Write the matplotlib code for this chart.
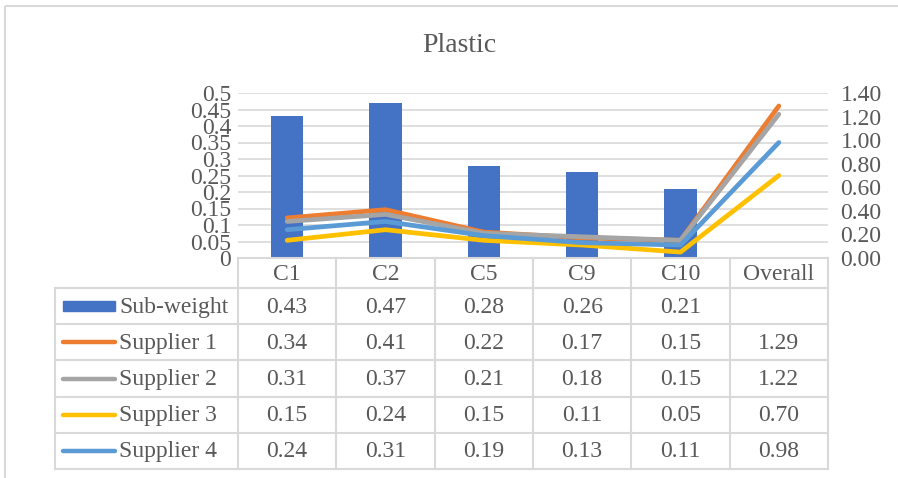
import matplotlib.pyplot as plt
import numpy as np
from matplotlib.patches import Rectangle
from matplotlib.lines import Line2D

plt.rcParams['font.family'] = ['Liberation Serif', 'DejaVu Serif']

categories = ['C1', 'C2', 'C5', 'C9', 'C10', 'Overall']
sub_weight = [0.43, 0.47, 0.28, 0.26, 0.21, None]
supplier_1 = [0.34, 0.41, 0.22, 0.17, 0.15, 1.29]
supplier_2 = [0.31, 0.37, 0.21, 0.18, 0.15, 1.22]
supplier_3 = [0.15, 0.24, 0.15, 0.11, 0.05, 0.70]
supplier_4 = [0.24, 0.31, 0.19, 0.13, 0.11, 0.98]

series_names = ['Sub-weight', 'Supplier 1', 'Supplier 2', 'Supplier 3', 'Supplier 4']
series_colors = ['#4472C4', '#ED7D31', '#A5A5A5', '#FFC000', '#5B9BD5']
suppliers = [supplier_1, supplier_2, supplier_3, supplier_4]

txt = '#595959'
grid = '#D9D9D9'
fs = 17

W, H = 898, 478
fig = plt.figure(figsize=(W / 100, H / 100), dpi=100)

# plot area in pixel terms
px0, px1, py0, py1 = 238, 828, 93, 258

def fig_rect(x0, y0, x1, y1):
    return [x0 / W, 1 - y1 / H, (x1 - x0) / W, (y1 - y0) / H]

ax = fig.add_axes(fig_rect(px0, py0, px1, py1))
x = np.arange(len(categories))
bar_x = [i for i, v in enumerate(sub_weight) if v is not None]
bar_v = [v for v in sub_weight if v is not None]
ax.bar(bar_x, bar_v, width=0.33, color=series_colors[0], zorder=2)
ax.set_xlim(-0.5, len(categories) - 0.5)
ax.set_ylim(0, 0.5)
ax.set_yticks(np.arange(0, 0.501, 0.05))
ax.set_yticklabels([f'{v:.2f}'.rstrip('0').rstrip('.') if v > 0 else '0'
                    for v in np.arange(0, 0.501, 0.05)])
ax.yaxis.grid(True, color=grid, lw=1.2, zorder=0)
ax.set_xticks([])
for s in ax.spines.values():
    s.set_visible(False)
ax.tick_params(axis='y', length=0, labelsize=fs, labelcolor=txt, pad=5)
ax.set_axisbelow(True)

ax2 = ax.twinx()
for vals, col in zip(suppliers, series_colors[1:]):
    ax2.plot(x, vals, color=col, lw=3.4, solid_capstyle='round',
             solid_joinstyle='round', zorder=3)
ax2.set_ylim(0, 1.4)
ax2.set_yticks(np.arange(0, 1.401, 0.2))
ax2.set_yticklabels([f'{v:.2f}' for v in np.arange(0, 1.401, 0.2)])
for s in ax2.spines.values():
    s.set_visible(False)
ax2.tick_params(axis='y', length=0, labelsize=fs, labelcolor=txt, pad=9)

fig.text(459 / W, 1 - 45 / H, 'Plastic', ha='center', va='center',
         fontsize=20, color=txt)

# overlay in pixel coordinates for the data table and chart border
ov = fig.add_axes([0, 0, 1, 1])
ov.set_xlim(0, W)
ov.set_ylim(H, 0)
ov.axis('off')
ov.patch.set_alpha(0)

ov.add_patch(Rectangle((5, 6), 1000, 600, fill=False, ec=grid, lw=1.5))

col_w = (px1 - px0) / len(categories)
row_top = py1
head_h = 30
row_h = 36.2
lab_x0 = 55
n_rows = len(series_names)
tab_bottom = row_top + head_h + n_rows * row_h

# header cells
ov.plot([px0, px1], [row_top, row_top], color=grid, lw=1.5)
for i, c in enumerate(categories):
    ov.text(px0 + (i + 0.5) * col_w, row_top + head_h / 2 + 1, c,
            ha='center', va='center', fontsize=fs, color=txt)
# vertical lines
for i in range(len(categories) + 1):
    xx = px0 + i * col_w
    ov.plot([xx, xx], [row_top, tab_bottom], color=grid, lw=1.5)
ov.plot([lab_x0, lab_x0], [row_top + head_h, tab_bottom], color=grid, lw=1.5)
# horizontal lines
for r in range(n_rows + 1):
    yy = row_top + head_h + r * row_h
    ov.plot([lab_x0, px1], [yy, yy], color=grid, lw=1.5)

rows = [sub_weight] + suppliers
for r, (name, col, vals) in enumerate(zip(series_names, series_colors, rows)):
    yc = row_top + head_h + (r + 0.5) * row_h
    if r == 0:
        ov.add_patch(Rectangle((63, yc - 5), 52, 10, color=col))
    else:
        ov.add_line(Line2D([63, 115], [yc, yc], color=col, lw=3.2,
                           solid_capstyle='round'))
    ov.text(119, yc + 1, name, ha='left', va='center', fontsize=fs, color=txt)
    for i, v in enumerate(vals):
        if v is None:
            continue
        ov.text(px0 + (i + 0.5) * col_w, yc + 1, f'{v:.2f}', ha='center',
                va='center', fontsize=fs, color=txt)

fig.savefig('out.png', dpi=100)
